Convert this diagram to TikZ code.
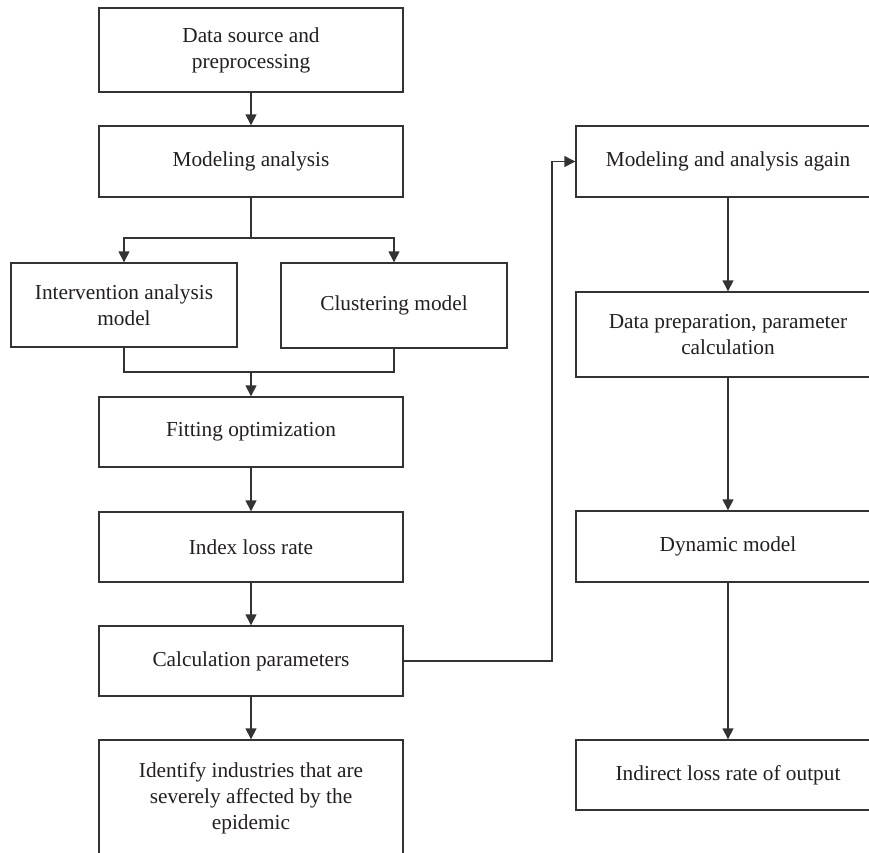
\documentclass[tikz,border=0pt]{standalone}
\usepackage{fontspec}
\setmainfont{Liberation Serif}
\usetikzlibrary{arrows.meta}
\definecolor{ink}{HTML}{231F20}
\definecolor{edge}{HTML}{333333}
\begin{document}
\begin{tikzpicture}[x=1pt,y=-1pt,
  box/.style={draw=edge, line width=1.4pt, fill=white, text=ink, align=center,
    minimum width=304pt, inner sep=0pt,
    font=\fontsize{21.3}{26}\selectfont},
  narrow/.style={box, minimum width=226pt},
  arr/.style={draw=edge, line width=1.4pt, -{Triangle[length=11pt,width=11pt]}},
  link/.style={draw=edge, line width=1.4pt}]
\useasboundingbox (0,0) rectangle (869,852);
\clip (0,0) rectangle (869,852);
\fill[white] (0,0) rectangle (869,852);

% left column
\node[box, minimum height=84pt] (src) at (251,50) {Data source and\\preprocessing};
\node[box, minimum height=71pt] (model) at (251,161.5) {Modeling analysis};
\node[narrow, minimum height=84pt] (interv) at (124,305) {Intervention analysis\\model};
\node[narrow, minimum height=85pt] (clust) at (394,305.5) {Clustering model};
\node[box, minimum height=70pt] (fit) at (251,432) {Fitting optimization};
\node[box, minimum height=70pt] (index) at (251,547) {Index loss rate};
\node[box, minimum height=70pt] (calc) at (251,661) {Calculation parameters};
\node[box, minimum height=116pt] (ident) at (251,798) {Identify industries that are\\severely affected by the\\epidemic};

% right column
\node[box, minimum height=71pt] (again) at (728,161.5) {Modeling and analysis again};
\node[box, minimum height=85pt] (prep) at (728,334.5) {Data preparation, parameter\\calculation};
\node[box, minimum height=71pt] (dyn) at (728,546.5) {Dynamic model};
\node[box, minimum height=70pt] (indirect) at (728,775) {Indirect loss rate of output};

% branch points
\coordinate (split) at (251,238);
\coordinate (merge) at (251,372);
\coordinate (bend) at (552,661);

% connectors
\draw[arr] (src) -- (model);
\draw[link] (model.south) -- (split);
\draw[arr] (split) -| (interv.north);
\draw[arr] (split) -| (clust.north);
\draw[link] (interv.south) |- (merge) -| (clust.south);
\draw[arr] (merge) -- (fit.north);
\draw[arr] (fit) -- (index);
\draw[arr] (index) -- (calc);
\draw[arr] (calc) -- (ident);
\draw[arr] (calc.east) -- (bend) |- (again.west);
\draw[arr] (again) -- (prep);
\draw[arr] (prep) -- (dyn);
\draw[arr] (dyn) -- (indirect);
\end{tikzpicture}
\end{document}
